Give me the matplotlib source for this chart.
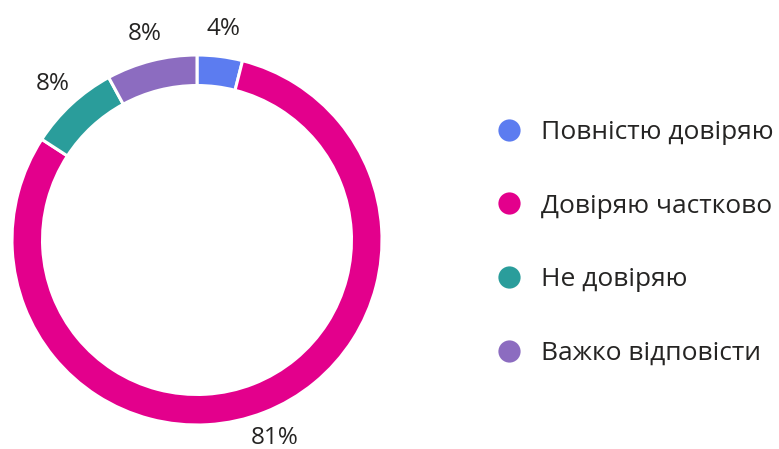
import matplotlib
matplotlib.use("Agg")
import matplotlib.pyplot as plt
import numpy as np
from matplotlib.lines import Line2D

plt.rcParams['font.family'] = ['Open Sans', 'DejaVu Sans']

# data
categories = ['Повністю довіряю', 'Довіряю частково', 'Не довіряю', 'Важко відповісти']
values = [4, 81, 8, 8]
pct_labels = ['4%', '81%', '8%', '8%']
colors = ['#5C7CF0', '#E3008C', '#2A9D9B', '#8C6CC0']

W, H = 779, 449
fig = plt.figure(figsize=(W / 100, H / 100), dpi=100)

# donut centre (197, 240) px from top-left, outer radius 185 px
cx, cy, R = 197, H - 240, 185
ax = fig.add_axes([(cx - R) / W, (cy - R) / H, 2 * R / W, 2 * R / H])

wedges, _ = ax.pie(values, colors=colors, startangle=90, counterclock=False,
                   radius=1, wedgeprops=dict(width=0.165, edgecolor='white', linewidth=2.2))
ax.set_xlim(-1, 1)
ax.set_ylim(-1, 1)
ax.set_aspect('equal')
ax.axis('off')

for w, lab in zip(wedges, pct_labels):
    ang = np.deg2rad((w.theta1 + w.theta2) / 2)
    r = 1.15
    ax.text(r * np.cos(ang), r * np.sin(ang), lab, ha='center', va='center',
            fontsize=17.5, color='#252423', clip_on=False)

handles = [Line2D([0], [0], marker='o', color='none', markerfacecolor=c,
                  markeredgecolor='none', markersize=16) for c in colors]
fig.legend(handles, categories, loc='center left', bbox_to_anchor=(499 / W, (H - 243) / H),
           frameon=False, fontsize=19, labelspacing=1.84, handlelength=0.75,
           handletextpad=0.85, labelcolor='#252423', borderaxespad=0, borderpad=0)

fig.savefig('out.png', dpi=100, facecolor='white')
